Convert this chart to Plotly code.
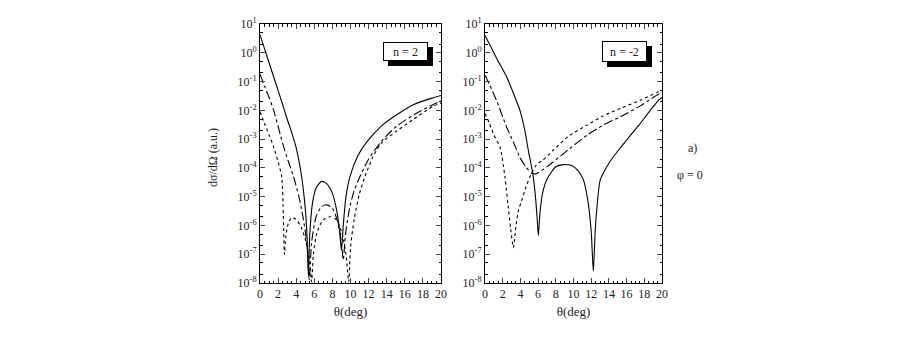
import plotly.graph_objects as go

# n = 2 panel
th_l_solid = [0, 0.5, 1.0, 1.84, 2.5, 3.0, 3.5, 4.0, 4.6, 5.0, 5.2, 5.35, 5.5, 5.8, 6.2, 6.8, 7.4,
              8.0, 8.5, 8.8, 9.0, 9.2, 9.5, 9.94, 10.8, 11.8, 13.5, 15.1, 17.0, 19.15, 20]
v_l_solid = [4.2, 1.4, 0.45, 0.07, 0.016, 5e-3, 1.7e-3, 5e-4, 5e-5, 4e-6, 4e-7, 1.6e-8, 5e-7, 6e-6,
             2e-5, 3.4e-5, 2.8e-5, 1.3e-5, 3e-6, 6e-7, 1.4e-7, 1e-6, 1e-5, 5e-5, 2.6e-4, 8e-4,
             3e-3, 7e-3, 0.016, 0.0275, 0.033]

th_l_dashdot = [0, 0.5, 1.0, 1.47, 2.0, 2.58, 3.1, 3.7, 4.3, 4.8, 5.2, 5.45, 5.7, 6.2, 6.8, 7.4,
                8.0, 8.6, 9.0, 9.2, 9.45, 9.9, 10.4, 11.05, 12.0, 13.5, 15.1, 17.0, 19.15, 20]
v_l_dashdot = [0.18, 0.07, 0.028, 0.011, 2.8e-3, 5.8e-4, 1.8e-4, 5e-5, 1e-5, 1.6e-6, 2e-7, 1.3e-8,
               2.5e-7, 2e-6, 4.5e-6, 5.2e-6, 4e-6, 1.3e-6, 2.5e-7, 6.3e-8, 5e-7, 4e-6, 1.6e-5,
               5e-5, 2e-4, 9e-4, 2.8e-3, 7e-3, 0.016, 0.021]

th_l_dot = [0, 0.5, 1.0, 1.47, 2.0, 2.4, 2.55, 2.7, 2.85, 3.1, 3.5, 4.0, 4.6, 5.1, 5.5, 5.7, 5.9,
            6.3, 7.0, 7.7, 8.4, 9.0, 9.5, 9.8, 10.0, 10.4, 11.0, 11.6, 12.5, 13.5, 15.1, 17.0,
            19.15, 20]
v_l_dot = [8.9e-3, 3.5e-3, 1.4e-3, 5.8e-4, 1.6e-4, 5e-5, 5e-6, 1e-7, 4e-7, 1.1e-6, 1.9e-6, 1.6e-6,
           8e-7, 2.5e-7, 5e-8, 1.1e-8, 1e-7, 5.6e-7, 1.6e-6, 2e-6, 1.6e-6, 6.3e-7, 1e-7, 1.1e-8,
           1.6e-7, 1.6e-6, 1.3e-5, 5e-5, 2.5e-4, 7.9e-4, 1.9e-3, 5e-3, 0.014, 0.018]

# n = -2 panel
th_r_solid = [0, 0.5, 1.0, 1.5, 2.45, 3.2, 3.95, 4.5, 4.9, 5.4, 5.7, 5.9, 6.03, 6.2, 6.5, 7.0, 8.0,
              8.9, 9.8, 10.5, 11.1, 11.6, 12.0, 12.24, 12.45, 12.7, 13.0, 13.5, 14.2, 15.25, 16.3,
              17.5, 18.5, 19.6, 20]
v_r_solid = [4.0, 2.0, 1.0, 0.5, 0.145, 0.04, 0.01, 2e-3, 4e-4, 6.3e-5, 1e-5, 1.6e-6, 4.4e-7,
             2.5e-6, 1.3e-5, 4e-5, 1.1e-4, 1.3e-4, 1.2e-4, 8e-5, 4e-5, 8e-6, 6.3e-7, 2.6e-8,
             6.3e-7, 6.3e-6, 3.6e-5, 7.9e-5, 1.8e-4, 4.8e-4, 1.2e-3, 3.4e-3, 8.5e-3, 0.022, 0.028]

th_r_dashdot = [0, 0.5, 1.3, 2.45, 3.2, 3.95, 4.6, 5.27, 5.8, 6.5, 7.7, 9.5, 11.5, 13.3, 15.25,
                17.5, 19.6, 20]
v_r_dashdot = [0.166, 0.08, 0.022, 2.6e-3, 8e-4, 2.3e-4, 1.1e-4, 6.5e-5, 6.3e-5, 8.5e-5, 1.6e-4,
               4.5e-4, 1.35e-3, 3e-3, 5.9e-3, 0.014, 0.036, 0.04]

th_r_dot = [0, 0.5, 1.0, 1.7, 2.26, 2.6, 2.9, 3.2, 3.5, 3.8, 4.14, 4.7, 5.27, 5.9, 6.5, 7.7, 9.5,
            11.5, 13.3, 15.25, 17.5, 19.6, 20]
v_r_dot = [7.8e-3, 3.5e-3, 1.4e-3, 5.2e-4, 4.7e-5, 5e-6, 8e-7, 1.7e-7, 1e-6, 3.5e-6, 7.2e-6,
           2.5e-5, 6.5e-5, 1.4e-4, 1.8e-4, 4.1e-4, 1.3e-3, 3e-3, 6.3e-3, 0.0115, 0.022, 0.044, 0.048]

x_ticks = [0, 2, 4, 6, 8, 10, 12, 14, 16, 18, 20]
y_exps = [1, 0, -1, -2, -3, -4, -5, -6, -7, -8]

W, H = 900, 355
FONT = "Liberation Serif"

def px(x):
    return x / W

def py(y):
    return 1 - y / H

fig = go.Figure()

panels = [
    ("x", "y", [(th_l_solid, v_l_solid, "solid"), (th_l_dashdot, v_l_dashdot, "dashdot"),
                (th_l_dot, v_l_dot, "dot")]),
    ("x2", "y2", [(th_r_solid, v_r_solid, "solid"), (th_r_dashdot, v_r_dashdot, "dashdot"),
                  (th_r_dot, v_r_dot, "dot")]),
]
for xa, ya, curves in panels:
    for th, v, dash in curves:
        fig.add_trace(go.Scatter(x=th, y=v, mode="lines", xaxis=xa, yaxis=ya,
                                 line=dict(color="black", width=1.1, dash=dash,
                                           shape="spline", smoothing=0.7),
                                 showlegend=False, hoverinfo="skip"))

xax = dict(range=[0, 20], tickvals=x_ticks, ticks="inside", ticklen=5, mirror="allticks",
           showline=True, linecolor="black", linewidth=1, showgrid=False, zeroline=False,
           automargin=False,
           tickfont=dict(family=FONT, size=12, color="#222"),
           minor=dict(dtick=0.5, ticks="inside", ticklen=2.5, tickcolor="black"),
           title=dict(text="θ(deg)", font=dict(family=FONT, size=13, color="#222"), standoff=6))
yax = dict(type="log", range=[-8, 1], tickvals=[10 ** e for e in y_exps],
           ticktext=["10<sup>%d</sup>" % e for e in y_exps],
           ticks="inside", ticklen=5, mirror="allticks", showline=True, linecolor="black",
           linewidth=1, showgrid=False, zeroline=False, automargin=False,
           tickfont=dict(family=FONT, size=12, color="#222"),
           minor=dict(ticks="inside", ticklen=2.5, tickcolor="black"))

y_dom = [py(283), py(24)]
fig.update_layout(
    width=W, height=H, margin=dict(l=0, r=0, t=0, b=0, pad=0, autoexpand=False),
    paper_bgcolor="white", plot_bgcolor="white",
    xaxis=dict(xax, domain=[px(260), px(441)], anchor="y"),
    yaxis=dict(yax, domain=y_dom, anchor="x"),
    xaxis2=dict(xax, domain=[px(485), px(662)], anchor="y2"),
    yaxis2=dict(yax, domain=y_dom, anchor="x2"),
)

# label boxes: black drop shadow, then the boxed text drawn over it
for (x0, y0, x1, y1) in [(383, 42, 428, 61), (602, 41, 647, 62)]:
    fig.add_shape(type="rect", xref="paper", yref="paper", x0=px(x0 + 5), x1=px(x1 + 5),
                  y0=py(y1 + 5), y1=py(y0 + 5), fillcolor="black", line=dict(width=0))

af = dict(family=FONT, size=12, color="#222")
for (x0, y0, x1, y1), txt in [((383, 42, 428, 61), "n = 2"), ((602, 41, 647, 62), "n = -2")]:
    fig.add_annotation(x=px((x0 + x1) / 2), y=py((y0 + y1) / 2), xref="paper", yref="paper",
                       text=txt, showarrow=False, font=af, bgcolor="white",
                       bordercolor="black", borderwidth=1, borderpad=0,
                       width=x1 - x0 - 2, height=y1 - y0 - 2, xanchor="center", yanchor="middle")

for x, y, txt, ang in [(213, 158, "dσ/dΩ (a.u.)", -90), (692, 148, "a)", 0), (690, 175, "φ = 0", 0)]:
    fig.add_annotation(x=px(x), y=py(y), xref="paper", yref="paper", text=txt, textangle=ang,
                       showarrow=False, font=af, xanchor="center", yanchor="middle")

fig.write_html("out.html", config={"displayModeBar": False},
               post_script="document.body.style.margin='0';")
